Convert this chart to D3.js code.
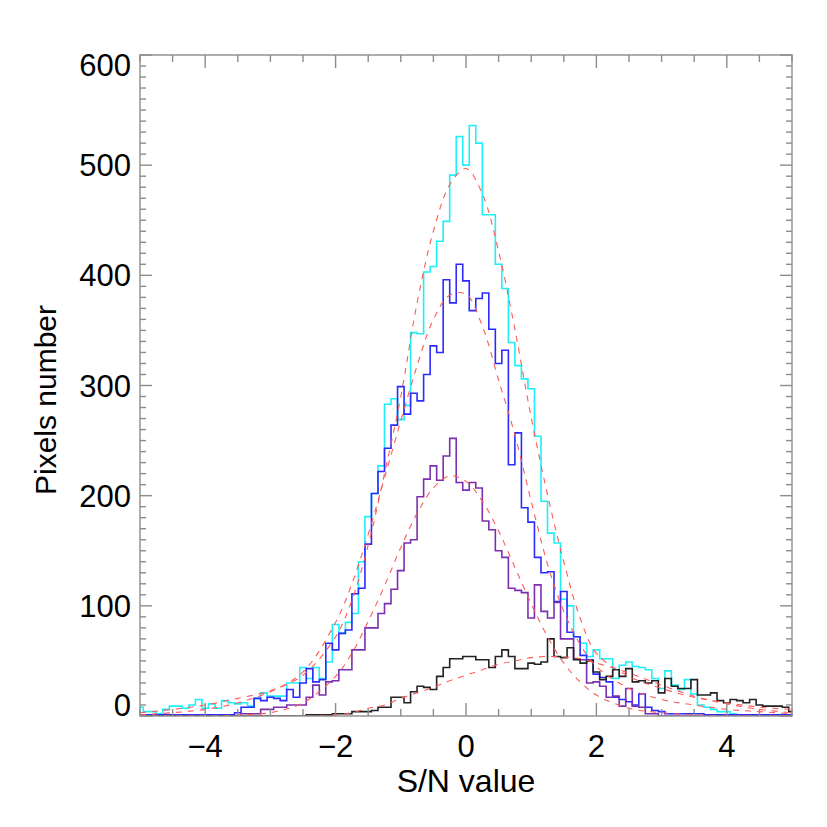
<!DOCTYPE html>
<html><head><meta charset="utf-8">
<script src="https://cdn.jsdelivr.net/npm/d3@7"></script>
<style>body{margin:0;background:#fff}svg{display:block}text{font-family:"Liberation Sans",Arial,Helvetica,sans-serif}</style>
</head><body><svg id="c" width="827" height="827"></svg>
<script>
// bin centres: -5.0 ... 5.0 step 0.1 (101 bins)
const binStart = -5.0, binStep = 0.1;
const cyanCounts = [8,4,4,2,6,9,9,7,10,15, 7,11,7,14,12,11,12,9,16,21, 18,18,18,30,30,44,34,44,34,49, 83,75,85,93,140,181,202,227,283,288, 269,282,348,347,403,408,431,449,491,526,
 500,536,520,455,455,410,388,339,318,306, 297,254,195,166,157,106,100,72,66,54, 60,52,52,34,46,49,45,44,42,34, 25,41,28,24,33,20,10,8,6,4, 4,2,1,1,1,1,1,1,1,1,1];
const blueCounts = [1,1,1,1,1,1,1,1,1,1, 1,1,1,1,1,3,8,8,16,14, 17,16,14,24,17,30,43,31,33,66, 60,75,78,111,116,156,202,222,243,264, 299,274,293,286,310,336,330,396,375,410,
 395,368,379,384,351,320,332,228,257,189, 176,144,130,131,104,113,76,72,55,51, 38,35,31,17,15,13,10,20,8,5, 4,2,2,2,2,2,2,1,1,1, 1,1,1,1,1,1,1,1,1,1,1];
const purpleCounts = [0,0,0,0,0,0,0,0,0,0, 0,0,0,0,0,0,2,2,2,6, 6,8,8,10,10,10,17,28,19,31, 32,42,42,60,60,80,80,93,102,115, 132,157,160,199,215,227,214,236,252,212,
 205,212,207,177,169,150,144,116,114,112, 89,119,95,89,103,70,70,52,51,30, 31,27,17,18,9,25,9,8,2,2, 0,0,0,0,0,0,0,0,0,0, 0,0,0,0,0,0,0,0,0,0,0];
const blackCounts = [0,0,0,0,0,0,0,0,0,0, 0,0,0,0,0,0,0,0,0,0, 0,0,0,0,0,0,1,1,1,1, 2,2,2,4,4,4,5,8,8,17, 17,12,22,27,26,24,36,44,52,52,
 54,54,51,51,44,54,60,54,43,43, 48,47,49,70,54,53,62,51,48,50, 40,33,36,42,36,43,31,32,30,32, 21,34,27,25,25,33,19,19,21,14, 12,15,14,12,15,10,9,9,9,8,4];

// fitted curves
const fitX = [-5,-4.5,-4,-3.5,-3,-2.5,-2,-1.75,-1.5,-1.25,-1,-0.75,-0.5,-0.25,0,0.25,0.5,0.75,1,1.25,1.5,1.75,2,2.5,3,3.5,4,4.5,5];
const cyanFit   = [3,6,10,16,23,37,72,105,155,220,290,375,440,482,497,474,422,351,271,201,140,89,57,36,25,17,12,8,6];
const blueFit   = [1,3,6,12,22,40,85,120,165,216,268,318,360,382,383,354,305,255,195,138,95,65,45,25,15,10,6,4,2];
const purpleFit = [0,0,0,1,3,12,36,57,86,118,153,184,207,218,213,195,168,135,102,72,48,31,19,7,3,1,0,0,0];
const blackFit  = [0,0,0,0,0,0,1,3,7,10,16,21,26,32,37,42,47,50,53,54,53.5,52,48,39,28,18,11,6,3];

const xTicks = [-4,-2,0,2,4];
const yTicks = [0,100,200,300,400,500,600];
const xTitle = "S/N value", yTitle = "Pixels number";

const svg = d3.select("#c");
const L = 140, R = 792, T = 55, B = 716;
const x = d3.scaleLinear().domain([-5,5]).range([L,R]);
const y = d3.scaleLinear().domain([0,600]).range([B,T]);
const axisCol = "#8c8c8c";

svg.append("defs").append("clipPath").attr("id","pc").append("rect")
  .attr("x",L).attr("y",T).attr("width",R-L).attr("height",B-T);
const plot = svg.append("g").attr("clip-path","url(#pc)");

const histLine = d3.line().x(d=>x(d[0])).y(d=>y(d[1])).curve(d3.curveStep);
const series = [
  {v: cyanCounts, c: "#1ef0fa"},
  {v: blueCounts, c: "#2b2bff"},
  {v: purpleCounts, c: "#7b2fb0"},
  {v: blackCounts, c: "#222222"}
];
series.forEach(s=>{
  const pts = s.v.map((v,i)=>[binStart + i*binStep, v]);
  plot.append("path").attr("d", histLine(pts)).attr("fill","none")
    .attr("stroke", s.c).attr("stroke-width",1.6).attr("stroke-linejoin","miter");
});
const fitLine = d3.line().x(d=>x(d[0])).y(d=>y(d[1])).curve(d3.curveCatmullRom.alpha(0.5));
[cyanFit, blueFit, purpleFit, blackFit].forEach(f=>{
  plot.append("path").attr("d", fitLine(f.map((v,i)=>[fitX[i], v]))).attr("fill","none")
    .attr("stroke","#ff5a5a").attr("stroke-width",1.1).attr("stroke-dasharray","6,6");
});

// frame
const ax = svg.append("g").attr("stroke", axisCol).attr("stroke-width",1.4).attr("fill","none");
ax.append("rect").attr("x",L).attr("y",T).attr("width",R-L).attr("height",B-T);
d3.range(-5,5.001,0.5).forEach(v=>{
  const major = xTicks.includes(v);
  const len = major ? 13 : 7;
  ax.append("line").attr("x1",x(v)).attr("x2",x(v)).attr("y1",B).attr("y2",B-len);
  ax.append("line").attr("x1",x(v)).attr("x2",x(v)).attr("y1",T).attr("y2",T+len);
});
d3.range(0,601,10).forEach(v=>{
  const major = yTicks.includes(v);
  const len = major ? 12 : 6;
  ax.append("line").attr("y1",y(v)).attr("y2",y(v)).attr("x1",L).attr("x2",L+len);
  ax.append("line").attr("y1",y(v)).attr("y2",y(v)).attr("x1",R).attr("x2",R-len);
});

// labels
xTicks.forEach(v=>{
  svg.append("text").attr("x",x(v)).attr("y",757).attr("text-anchor","middle")
    .attr("font-size",31).text(v<0 ? "\u2212"+Math.abs(v) : String(v));
});
yTicks.forEach(v=>{
  let cy = y(v);
  cy = Math.max(cy, T+10); cy = Math.min(cy, B-11);
  svg.append("text").attr("x",131).attr("y",cy).attr("dy","0.36em").attr("text-anchor","end")
    .attr("font-size",31).text(String(v));
});
svg.append("text").attr("x",466).attr("y",792).attr("text-anchor","middle")
  .attr("font-size",32).text(xTitle);
svg.append("text").attr("transform","translate(56,400) rotate(-90)")
  .attr("text-anchor","middle").attr("font-size",30).text(yTitle);
</script></body></html>
